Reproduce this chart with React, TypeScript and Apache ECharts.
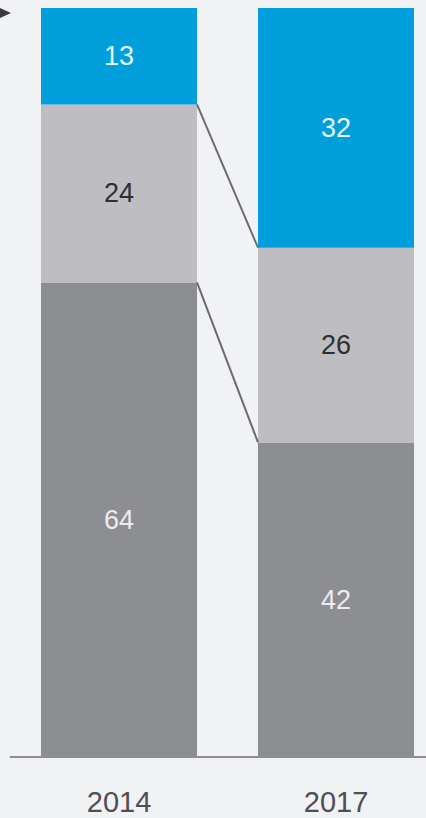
import React, { useEffect, useRef } from "react";
import * as echarts from "echarts";

const categories = ["2014", "2017"];
const seriesNames = ["bottom", "middle", "top"];
const bottomValues = [64, 42];
const middleValues = [24, 26];
const topValues = [13, 32];

const BAR_W = 156;
const colors = ["#8d8e92", "#bebdc2", "#009fdb"];
const labelColors = ["#ececee", "#2f2f33", "#e6f6fd"];

export default function App() {
  const ref = useRef<HTMLDivElement>(null);
  useEffect(() => {
    if (!ref.current) return;
    const chart = echarts.init(ref.current, null, { renderer: "svg" });
    const raw = [bottomValues, middleValues, topValues];
    const totals = categories.map((_, i) => raw.reduce((s, arr) => s + arr[i], 0));
    const share = (arr: number[]) => arr.map((v, i) => (v / totals[i]) * 100);
    const shares = raw.map(share);
    const cum1 = shares[0];
    const cum2 = shares[0].map((v, i) => v + shares[1][i]);
    const connectors = [
      [0, cum1[0], cum1[1]],
      [0, cum2[0], cum2[1]],
    ];
    const barSeries = raw.map((arr, s) => ({
      type: "bar",
      name: seriesNames[s],
      stack: "total",
      barWidth: BAR_W,
      data: shares[s],
      itemStyle: { color: colors[s] },
      label: {
        show: true,
        position: "inside",
        formatter: (p: any) => String(arr[p.dataIndex]),
        color: labelColors[s],
        fontSize: 27,
        fontFamily: "Liberation Sans",
      },
    }));
    chart.setOption({
      animation: false,
      backgroundColor: "#f1f2f4",
      grid: {
        left: 10.5,
        width: 434,
        top: 8,
        bottom: 61,
        outerBoundsMode: "none",
        containLabel: false,
      },
      xAxis: {
        type: "category",
        data: categories,
        axisLine: { show: true, lineStyle: { color: "#8e8e92", width: 2 } },
        axisTick: { show: false },
        axisLabel: {
          fontSize: 29,
          color: "#4e4e53",
          margin: 30,
          fontFamily: "Liberation Sans",
        },
      },
      yAxis: { type: "value", min: 0, max: 100, show: false },
      series: [
        ...barSeries,
        {
          type: "custom",
          encode: { x: 0, y: 1 },
          data: connectors,
          z: 5,
          renderItem: (params: any, api: any) => {
            const p1 = api.coord([0, api.value(1)]);
            const p2 = api.coord([1, api.value(2)]);
            return {
              type: "line",
              shape: {
                x1: p1[0] + BAR_W / 2,
                y1: p1[1],
                x2: p2[0] - BAR_W / 2,
                y2: p2[1],
              },
              style: { stroke: "#6c6c70", lineWidth: 2 },
            };
          },
        },
      ],
      graphic: [
        {
          type: "polygon",
          shape: { points: [[0, 8], [11, 13], [0, 18]] },
          style: { fill: "#3a3a3c" },
        },
      ],
    });
    return () => chart.dispose();
  }, []);
  return (
    <div
      ref={ref}
      style={{ position: "fixed", left: 0, top: 0, width: 426, height: 818 }}
    />
  );
}
